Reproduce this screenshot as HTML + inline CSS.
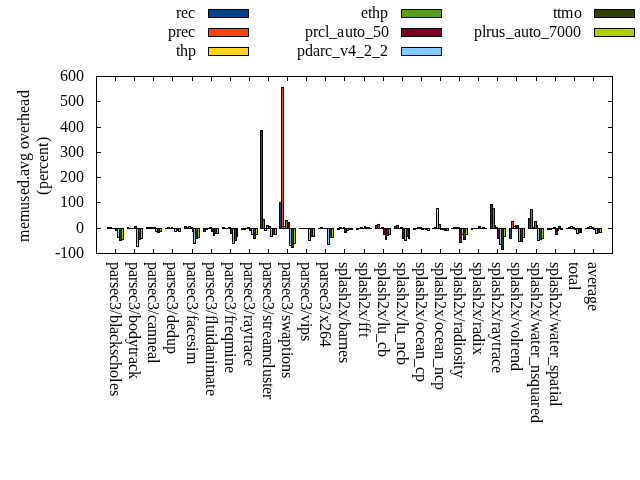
<!DOCTYPE html>
<html><head><meta charset="utf-8"><title>memused.avg overhead</title>
<style>
html,body{margin:0;padding:0;background:#fff;}
body{width:640px;height:480px;overflow:hidden;}
svg{display:block;}
text{font-family:"Liberation Serif",serif;font-size:16px;fill:#000;}
</style></head><body>
<svg width="640" height="480" viewBox="0 0 640 480">
<rect x="0" y="0" width="640" height="480" fill="#fff"/>
<g shape-rendering="crispEdges">
<rect x="107" y="227" width="3" height="2" fill="#000"/>
<rect x="127" y="227" width="2" height="2" fill="#000"/>
<rect x="146" y="227" width="3" height="2" fill="#000"/>
<rect x="165" y="228" width="3" height="1" fill="#000"/>
<rect x="184" y="226" width="3" height="3" fill="#000"/>
<rect x="185" y="227" width="1" height="1" fill="#004586"/>
<rect x="203" y="228" width="3" height="4" fill="#000"/>
<rect x="204" y="229" width="1" height="2" fill="#004586"/>
<rect x="222" y="227" width="3" height="2" fill="#000"/>
<rect x="241" y="228" width="3" height="2" fill="#000"/>
<rect x="260" y="130" width="3" height="99" fill="#000"/>
<rect x="261" y="131" width="1" height="97" fill="#004586"/>
<rect x="279" y="202" width="3" height="27" fill="#000"/>
<rect x="280" y="203" width="1" height="25" fill="#004586"/>
<rect x="299" y="228" width="2" height="1" fill="#000"/>
<rect x="318" y="228" width="3" height="1" fill="#000"/>
<rect x="337" y="228" width="3" height="2" fill="#000"/>
<rect x="356" y="228" width="3" height="2" fill="#000"/>
<rect x="375" y="225" width="3" height="4" fill="#000"/>
<rect x="376" y="226" width="1" height="2" fill="#004586"/>
<rect x="394" y="226" width="3" height="3" fill="#000"/>
<rect x="395" y="227" width="1" height="1" fill="#004586"/>
<rect x="413" y="228" width="3" height="2" fill="#000"/>
<rect x="432" y="228" width="3" height="1" fill="#000"/>
<rect x="451" y="228" width="3" height="1" fill="#000"/>
<rect x="471" y="228" width="2" height="2" fill="#000"/>
<rect x="490" y="204" width="3" height="25" fill="#000"/>
<rect x="491" y="205" width="1" height="23" fill="#004586"/>
<rect x="509" y="228" width="3" height="11" fill="#000"/>
<rect x="510" y="229" width="1" height="9" fill="#004586"/>
<rect x="528" y="218" width="3" height="11" fill="#000"/>
<rect x="529" y="219" width="1" height="9" fill="#004586"/>
<rect x="547" y="228" width="3" height="2" fill="#000"/>
<rect x="566" y="228" width="3" height="1" fill="#000"/>
<rect x="585" y="228" width="3" height="1" fill="#000"/>
<rect x="109" y="227" width="3" height="2" fill="#000"/>
<rect x="128" y="228" width="3" height="1" fill="#000"/>
<rect x="148" y="227" width="3" height="2" fill="#000"/>
<rect x="167" y="227" width="3" height="2" fill="#000"/>
<rect x="186" y="227" width="3" height="2" fill="#000"/>
<rect x="205" y="228" width="3" height="2" fill="#000"/>
<rect x="224" y="228" width="3" height="1" fill="#000"/>
<rect x="243" y="228" width="3" height="2" fill="#000"/>
<rect x="262" y="219" width="3" height="10" fill="#000"/>
<rect x="263" y="220" width="1" height="8" fill="#ff420e"/>
<rect x="281" y="87" width="3" height="142" fill="#000"/>
<rect x="282" y="88" width="1" height="140" fill="#ff420e"/>
<rect x="300" y="228" width="3" height="1" fill="#000"/>
<rect x="320" y="227" width="3" height="2" fill="#000"/>
<rect x="339" y="227" width="3" height="2" fill="#000"/>
<rect x="358" y="228" width="3" height="1" fill="#000"/>
<rect x="377" y="224" width="3" height="5" fill="#000"/>
<rect x="378" y="225" width="1" height="3" fill="#ff420e"/>
<rect x="396" y="225" width="3" height="4" fill="#000"/>
<rect x="397" y="226" width="1" height="2" fill="#ff420e"/>
<rect x="415" y="228" width="3" height="1" fill="#000"/>
<rect x="434" y="227" width="3" height="2" fill="#000"/>
<rect x="453" y="227" width="3" height="2" fill="#000"/>
<rect x="472" y="228" width="3" height="1" fill="#000"/>
<rect x="492" y="208" width="3" height="21" fill="#000"/>
<rect x="493" y="209" width="1" height="19" fill="#ff420e"/>
<rect x="511" y="221" width="3" height="8" fill="#000"/>
<rect x="512" y="222" width="1" height="6" fill="#ff420e"/>
<rect x="530" y="209" width="3" height="20" fill="#000"/>
<rect x="531" y="210" width="1" height="18" fill="#ff420e"/>
<rect x="549" y="228" width="3" height="2" fill="#000"/>
<rect x="568" y="227" width="3" height="2" fill="#000"/>
<rect x="587" y="227" width="3" height="2" fill="#000"/>
<rect x="111" y="228" width="3" height="1" fill="#000"/>
<rect x="130" y="228" width="3" height="1" fill="#000"/>
<rect x="150" y="227" width="2" height="2" fill="#000"/>
<rect x="169" y="228" width="3" height="1" fill="#000"/>
<rect x="188" y="226" width="3" height="3" fill="#000"/>
<rect x="189" y="227" width="1" height="1" fill="#ffd320"/>
<rect x="207" y="228" width="3" height="1" fill="#000"/>
<rect x="226" y="228" width="3" height="1" fill="#000"/>
<rect x="245" y="228" width="3" height="1" fill="#000"/>
<rect x="264" y="228" width="3" height="3" fill="#000"/>
<rect x="265" y="229" width="1" height="1" fill="#ffd320"/>
<rect x="283" y="226" width="3" height="3" fill="#000"/>
<rect x="284" y="227" width="1" height="1" fill="#ffd320"/>
<rect x="302" y="228" width="3" height="1" fill="#000"/>
<rect x="322" y="228" width="2" height="1" fill="#000"/>
<rect x="341" y="228" width="3" height="1" fill="#000"/>
<rect x="360" y="227" width="3" height="2" fill="#000"/>
<rect x="379" y="228" width="3" height="1" fill="#000"/>
<rect x="398" y="228" width="3" height="1" fill="#000"/>
<rect x="417" y="227" width="3" height="2" fill="#000"/>
<rect x="436" y="208" width="3" height="21" fill="#000"/>
<rect x="437" y="209" width="1" height="19" fill="#ffd320"/>
<rect x="455" y="227" width="3" height="2" fill="#000"/>
<rect x="474" y="228" width="3" height="1" fill="#000"/>
<rect x="494" y="225" width="2" height="4" fill="#000"/>
<rect x="513" y="226" width="3" height="3" fill="#000"/>
<rect x="514" y="227" width="1" height="1" fill="#ffd320"/>
<rect x="532" y="227" width="3" height="2" fill="#000"/>
<rect x="551" y="228" width="3" height="1" fill="#000"/>
<rect x="570" y="226" width="3" height="3" fill="#000"/>
<rect x="571" y="227" width="1" height="1" fill="#ffd320"/>
<rect x="589" y="226" width="3" height="3" fill="#000"/>
<rect x="590" y="227" width="1" height="1" fill="#ffd320"/>
<rect x="113" y="228" width="3" height="1" fill="#000"/>
<rect x="132" y="228" width="3" height="1" fill="#000"/>
<rect x="151" y="227" width="3" height="2" fill="#000"/>
<rect x="171" y="227" width="2" height="2" fill="#000"/>
<rect x="190" y="227" width="3" height="2" fill="#000"/>
<rect x="209" y="227" width="3" height="2" fill="#000"/>
<rect x="228" y="227" width="3" height="2" fill="#000"/>
<rect x="247" y="227" width="3" height="2" fill="#000"/>
<rect x="266" y="225" width="3" height="4" fill="#000"/>
<rect x="267" y="226" width="1" height="2" fill="#579d1c"/>
<rect x="285" y="220" width="3" height="9" fill="#000"/>
<rect x="286" y="221" width="1" height="7" fill="#579d1c"/>
<rect x="304" y="228" width="3" height="1" fill="#000"/>
<rect x="323" y="228" width="3" height="1" fill="#000"/>
<rect x="343" y="227" width="2" height="2" fill="#000"/>
<rect x="362" y="228" width="3" height="1" fill="#000"/>
<rect x="381" y="227" width="3" height="2" fill="#000"/>
<rect x="400" y="227" width="3" height="2" fill="#000"/>
<rect x="419" y="227" width="3" height="2" fill="#000"/>
<rect x="438" y="224" width="3" height="5" fill="#000"/>
<rect x="439" y="225" width="1" height="3" fill="#579d1c"/>
<rect x="457" y="227" width="3" height="2" fill="#000"/>
<rect x="476" y="228" width="3" height="1" fill="#000"/>
<rect x="495" y="227" width="3" height="2" fill="#000"/>
<rect x="515" y="225" width="2" height="4" fill="#000"/>
<rect x="534" y="221" width="3" height="8" fill="#000"/>
<rect x="535" y="222" width="1" height="6" fill="#579d1c"/>
<rect x="553" y="227" width="3" height="2" fill="#000"/>
<rect x="572" y="227" width="3" height="2" fill="#000"/>
<rect x="591" y="227" width="3" height="2" fill="#000"/>
<rect x="115" y="228" width="3" height="3" fill="#000"/>
<rect x="116" y="229" width="1" height="1" fill="#7e0021"/>
<rect x="134" y="226" width="3" height="3" fill="#000"/>
<rect x="135" y="227" width="1" height="1" fill="#7e0021"/>
<rect x="153" y="227" width="3" height="2" fill="#000"/>
<rect x="172" y="228" width="3" height="1" fill="#000"/>
<rect x="192" y="228" width="2" height="4" fill="#000"/>
<rect x="211" y="228" width="3" height="4" fill="#000"/>
<rect x="212" y="229" width="1" height="2" fill="#7e0021"/>
<rect x="230" y="228" width="3" height="6" fill="#000"/>
<rect x="231" y="229" width="1" height="4" fill="#7e0021"/>
<rect x="249" y="228" width="3" height="3" fill="#000"/>
<rect x="250" y="229" width="1" height="1" fill="#7e0021"/>
<rect x="268" y="226" width="3" height="3" fill="#000"/>
<rect x="269" y="227" width="1" height="1" fill="#7e0021"/>
<rect x="287" y="222" width="3" height="7" fill="#000"/>
<rect x="288" y="223" width="1" height="5" fill="#7e0021"/>
<rect x="306" y="228" width="3" height="1" fill="#000"/>
<rect x="325" y="228" width="3" height="1" fill="#000"/>
<rect x="344" y="228" width="3" height="5" fill="#000"/>
<rect x="345" y="229" width="1" height="3" fill="#7e0021"/>
<rect x="364" y="226" width="2" height="3" fill="#000"/>
<rect x="383" y="228" width="3" height="7" fill="#000"/>
<rect x="384" y="229" width="1" height="5" fill="#7e0021"/>
<rect x="402" y="228" width="3" height="11" fill="#000"/>
<rect x="403" y="229" width="1" height="9" fill="#7e0021"/>
<rect x="421" y="228" width="3" height="2" fill="#000"/>
<rect x="440" y="228" width="3" height="2" fill="#000"/>
<rect x="459" y="228" width="3" height="15" fill="#000"/>
<rect x="460" y="229" width="1" height="13" fill="#7e0021"/>
<rect x="478" y="226" width="3" height="3" fill="#000"/>
<rect x="479" y="227" width="1" height="1" fill="#7e0021"/>
<rect x="497" y="228" width="3" height="11" fill="#000"/>
<rect x="498" y="229" width="1" height="9" fill="#7e0021"/>
<rect x="516" y="225" width="3" height="4" fill="#000"/>
<rect x="517" y="226" width="1" height="2" fill="#7e0021"/>
<rect x="536" y="225" width="2" height="4" fill="#000"/>
<rect x="555" y="228" width="3" height="7" fill="#000"/>
<rect x="556" y="229" width="1" height="5" fill="#7e0021"/>
<rect x="574" y="228" width="3" height="2" fill="#000"/>
<rect x="593" y="228" width="3" height="2" fill="#000"/>
<rect x="117" y="228" width="3" height="10" fill="#000"/>
<rect x="118" y="229" width="1" height="8" fill="#83caff"/>
<rect x="136" y="228" width="3" height="19" fill="#000"/>
<rect x="137" y="229" width="1" height="17" fill="#83caff"/>
<rect x="155" y="228" width="3" height="4" fill="#000"/>
<rect x="156" y="229" width="1" height="2" fill="#83caff"/>
<rect x="174" y="228" width="3" height="4" fill="#000"/>
<rect x="175" y="229" width="1" height="2" fill="#83caff"/>
<rect x="193" y="228" width="3" height="16" fill="#000"/>
<rect x="194" y="229" width="1" height="14" fill="#83caff"/>
<rect x="213" y="228" width="2" height="8" fill="#000"/>
<rect x="232" y="228" width="3" height="16" fill="#000"/>
<rect x="233" y="229" width="1" height="14" fill="#83caff"/>
<rect x="251" y="228" width="3" height="7" fill="#000"/>
<rect x="252" y="229" width="1" height="5" fill="#83caff"/>
<rect x="270" y="228" width="3" height="9" fill="#000"/>
<rect x="271" y="229" width="1" height="7" fill="#83caff"/>
<rect x="289" y="228" width="3" height="18" fill="#000"/>
<rect x="290" y="229" width="1" height="16" fill="#83caff"/>
<rect x="308" y="228" width="3" height="13" fill="#000"/>
<rect x="309" y="229" width="1" height="11" fill="#83caff"/>
<rect x="327" y="228" width="3" height="17" fill="#000"/>
<rect x="328" y="229" width="1" height="15" fill="#83caff"/>
<rect x="346" y="228" width="3" height="3" fill="#000"/>
<rect x="347" y="229" width="1" height="1" fill="#83caff"/>
<rect x="365" y="227" width="3" height="2" fill="#000"/>
<rect x="385" y="228" width="2" height="12" fill="#000"/>
<rect x="404" y="228" width="3" height="13" fill="#000"/>
<rect x="405" y="229" width="1" height="11" fill="#83caff"/>
<rect x="423" y="228" width="3" height="1" fill="#000"/>
<rect x="442" y="228" width="3" height="2" fill="#000"/>
<rect x="461" y="228" width="3" height="7" fill="#000"/>
<rect x="462" y="229" width="1" height="5" fill="#83caff"/>
<rect x="480" y="228" width="3" height="1" fill="#000"/>
<rect x="499" y="228" width="3" height="17" fill="#000"/>
<rect x="500" y="229" width="1" height="15" fill="#83caff"/>
<rect x="518" y="228" width="3" height="14" fill="#000"/>
<rect x="519" y="229" width="1" height="12" fill="#83caff"/>
<rect x="537" y="228" width="3" height="13" fill="#000"/>
<rect x="538" y="229" width="1" height="11" fill="#83caff"/>
<rect x="557" y="228" width="2" height="3" fill="#000"/>
<rect x="576" y="228" width="3" height="6" fill="#000"/>
<rect x="577" y="229" width="1" height="4" fill="#83caff"/>
<rect x="595" y="228" width="3" height="6" fill="#000"/>
<rect x="596" y="229" width="1" height="4" fill="#83caff"/>
<rect x="119" y="228" width="3" height="13" fill="#000"/>
<rect x="120" y="229" width="1" height="11" fill="#314004"/>
<rect x="138" y="228" width="3" height="12" fill="#000"/>
<rect x="139" y="229" width="1" height="10" fill="#314004"/>
<rect x="157" y="228" width="3" height="5" fill="#000"/>
<rect x="158" y="229" width="1" height="3" fill="#314004"/>
<rect x="176" y="228" width="3" height="3" fill="#000"/>
<rect x="177" y="229" width="1" height="1" fill="#314004"/>
<rect x="195" y="228" width="3" height="11" fill="#000"/>
<rect x="196" y="229" width="1" height="9" fill="#314004"/>
<rect x="214" y="228" width="3" height="6" fill="#000"/>
<rect x="215" y="229" width="1" height="4" fill="#314004"/>
<rect x="234" y="228" width="3" height="13" fill="#000"/>
<rect x="235" y="229" width="1" height="11" fill="#314004"/>
<rect x="253" y="228" width="3" height="11" fill="#000"/>
<rect x="254" y="229" width="1" height="9" fill="#314004"/>
<rect x="272" y="228" width="3" height="7" fill="#000"/>
<rect x="273" y="229" width="1" height="5" fill="#314004"/>
<rect x="291" y="228" width="3" height="20" fill="#000"/>
<rect x="292" y="229" width="1" height="18" fill="#314004"/>
<rect x="310" y="228" width="3" height="9" fill="#000"/>
<rect x="311" y="229" width="1" height="7" fill="#314004"/>
<rect x="329" y="228" width="3" height="10" fill="#000"/>
<rect x="330" y="229" width="1" height="8" fill="#314004"/>
<rect x="348" y="228" width="3" height="2" fill="#000"/>
<rect x="367" y="227" width="3" height="2" fill="#000"/>
<rect x="386" y="228" width="3" height="8" fill="#000"/>
<rect x="387" y="229" width="1" height="6" fill="#314004"/>
<rect x="406" y="228" width="3" height="9" fill="#000"/>
<rect x="407" y="229" width="1" height="7" fill="#314004"/>
<rect x="425" y="228" width="3" height="2" fill="#000"/>
<rect x="444" y="228" width="3" height="3" fill="#000"/>
<rect x="445" y="229" width="1" height="1" fill="#314004"/>
<rect x="463" y="228" width="3" height="12" fill="#000"/>
<rect x="464" y="229" width="1" height="10" fill="#314004"/>
<rect x="482" y="227" width="3" height="2" fill="#000"/>
<rect x="501" y="228" width="3" height="22" fill="#000"/>
<rect x="502" y="229" width="1" height="20" fill="#314004"/>
<rect x="520" y="228" width="3" height="14" fill="#000"/>
<rect x="521" y="229" width="1" height="12" fill="#314004"/>
<rect x="539" y="228" width="3" height="12" fill="#000"/>
<rect x="540" y="229" width="1" height="10" fill="#314004"/>
<rect x="558" y="226" width="3" height="3" fill="#000"/>
<rect x="559" y="227" width="1" height="1" fill="#314004"/>
<rect x="578" y="228" width="3" height="5" fill="#000"/>
<rect x="579" y="229" width="1" height="3" fill="#314004"/>
<rect x="597" y="228" width="3" height="5" fill="#000"/>
<rect x="598" y="229" width="1" height="3" fill="#314004"/>
<rect x="121" y="228" width="3" height="12" fill="#000"/>
<rect x="122" y="229" width="1" height="10" fill="#aecf00"/>
<rect x="140" y="228" width="3" height="11" fill="#000"/>
<rect x="141" y="229" width="1" height="9" fill="#aecf00"/>
<rect x="159" y="228" width="3" height="4" fill="#000"/>
<rect x="160" y="229" width="1" height="2" fill="#aecf00"/>
<rect x="178" y="228" width="3" height="4" fill="#000"/>
<rect x="179" y="229" width="1" height="2" fill="#aecf00"/>
<rect x="197" y="228" width="3" height="10" fill="#000"/>
<rect x="198" y="229" width="1" height="8" fill="#aecf00"/>
<rect x="216" y="228" width="3" height="6" fill="#000"/>
<rect x="217" y="229" width="1" height="4" fill="#aecf00"/>
<rect x="236" y="228" width="2" height="9" fill="#000"/>
<rect x="255" y="228" width="3" height="7" fill="#000"/>
<rect x="256" y="229" width="1" height="5" fill="#aecf00"/>
<rect x="274" y="228" width="3" height="7" fill="#000"/>
<rect x="275" y="229" width="1" height="5" fill="#aecf00"/>
<rect x="293" y="228" width="3" height="16" fill="#000"/>
<rect x="294" y="229" width="1" height="14" fill="#aecf00"/>
<rect x="312" y="228" width="3" height="9" fill="#000"/>
<rect x="313" y="229" width="1" height="7" fill="#aecf00"/>
<rect x="331" y="228" width="3" height="10" fill="#000"/>
<rect x="332" y="229" width="1" height="8" fill="#aecf00"/>
<rect x="350" y="228" width="3" height="2" fill="#000"/>
<rect x="369" y="228" width="3" height="1" fill="#000"/>
<rect x="388" y="228" width="3" height="7" fill="#000"/>
<rect x="389" y="229" width="1" height="5" fill="#aecf00"/>
<rect x="408" y="228" width="2" height="11" fill="#000"/>
<rect x="427" y="228" width="3" height="3" fill="#000"/>
<rect x="428" y="229" width="1" height="1" fill="#aecf00"/>
<rect x="446" y="228" width="3" height="3" fill="#000"/>
<rect x="447" y="229" width="1" height="1" fill="#aecf00"/>
<rect x="465" y="228" width="3" height="7" fill="#000"/>
<rect x="466" y="229" width="1" height="5" fill="#aecf00"/>
<rect x="484" y="228" width="3" height="1" fill="#000"/>
<rect x="503" y="228" width="3" height="9" fill="#000"/>
<rect x="504" y="229" width="1" height="7" fill="#aecf00"/>
<rect x="522" y="228" width="3" height="10" fill="#000"/>
<rect x="523" y="229" width="1" height="8" fill="#aecf00"/>
<rect x="541" y="228" width="3" height="11" fill="#000"/>
<rect x="542" y="229" width="1" height="9" fill="#aecf00"/>
<rect x="560" y="228" width="3" height="2" fill="#000"/>
<rect x="580" y="228" width="2" height="5" fill="#000"/>
<rect x="599" y="228" width="3" height="5" fill="#000"/>
<rect x="600" y="229" width="1" height="3" fill="#aecf00"/>
<rect x="96" y="76" width="517" height="1" fill="#000"/>
<rect x="96" y="253" width="517" height="1" fill="#000"/>
<rect x="96" y="76" width="1" height="178" fill="#000"/>
<rect x="612" y="76" width="1" height="178" fill="#000"/>
<rect x="115" y="249" width="1" height="5" fill="#000"/>
<rect x="115" y="76" width="1" height="5" fill="#000"/>
<rect x="134" y="249" width="1" height="5" fill="#000"/>
<rect x="134" y="76" width="1" height="5" fill="#000"/>
<rect x="153" y="249" width="1" height="5" fill="#000"/>
<rect x="153" y="76" width="1" height="5" fill="#000"/>
<rect x="172" y="249" width="1" height="5" fill="#000"/>
<rect x="172" y="76" width="1" height="5" fill="#000"/>
<rect x="192" y="249" width="1" height="5" fill="#000"/>
<rect x="192" y="76" width="1" height="5" fill="#000"/>
<rect x="211" y="249" width="1" height="5" fill="#000"/>
<rect x="211" y="76" width="1" height="5" fill="#000"/>
<rect x="230" y="249" width="1" height="5" fill="#000"/>
<rect x="230" y="76" width="1" height="5" fill="#000"/>
<rect x="249" y="249" width="1" height="5" fill="#000"/>
<rect x="249" y="76" width="1" height="5" fill="#000"/>
<rect x="268" y="249" width="1" height="5" fill="#000"/>
<rect x="268" y="76" width="1" height="5" fill="#000"/>
<rect x="287" y="249" width="1" height="5" fill="#000"/>
<rect x="287" y="76" width="1" height="5" fill="#000"/>
<rect x="306" y="249" width="1" height="5" fill="#000"/>
<rect x="306" y="76" width="1" height="5" fill="#000"/>
<rect x="325" y="249" width="1" height="5" fill="#000"/>
<rect x="325" y="76" width="1" height="5" fill="#000"/>
<rect x="344" y="249" width="1" height="5" fill="#000"/>
<rect x="344" y="76" width="1" height="5" fill="#000"/>
<rect x="364" y="249" width="1" height="5" fill="#000"/>
<rect x="364" y="76" width="1" height="5" fill="#000"/>
<rect x="383" y="249" width="1" height="5" fill="#000"/>
<rect x="383" y="76" width="1" height="5" fill="#000"/>
<rect x="402" y="249" width="1" height="5" fill="#000"/>
<rect x="402" y="76" width="1" height="5" fill="#000"/>
<rect x="421" y="249" width="1" height="5" fill="#000"/>
<rect x="421" y="76" width="1" height="5" fill="#000"/>
<rect x="440" y="249" width="1" height="5" fill="#000"/>
<rect x="440" y="76" width="1" height="5" fill="#000"/>
<rect x="459" y="249" width="1" height="5" fill="#000"/>
<rect x="459" y="76" width="1" height="5" fill="#000"/>
<rect x="478" y="249" width="1" height="5" fill="#000"/>
<rect x="478" y="76" width="1" height="5" fill="#000"/>
<rect x="497" y="249" width="1" height="5" fill="#000"/>
<rect x="497" y="76" width="1" height="5" fill="#000"/>
<rect x="516" y="249" width="1" height="5" fill="#000"/>
<rect x="516" y="76" width="1" height="5" fill="#000"/>
<rect x="536" y="249" width="1" height="5" fill="#000"/>
<rect x="536" y="76" width="1" height="5" fill="#000"/>
<rect x="555" y="249" width="1" height="5" fill="#000"/>
<rect x="555" y="76" width="1" height="5" fill="#000"/>
<rect x="574" y="249" width="1" height="5" fill="#000"/>
<rect x="574" y="76" width="1" height="5" fill="#000"/>
<rect x="593" y="249" width="1" height="5" fill="#000"/>
<rect x="593" y="76" width="1" height="5" fill="#000"/>
<rect x="96" y="253" width="5" height="1" fill="#000"/>
<rect x="608" y="253" width="5" height="1" fill="#000"/>
<rect x="96" y="228" width="5" height="1" fill="#000"/>
<rect x="608" y="228" width="5" height="1" fill="#000"/>
<rect x="96" y="202" width="5" height="1" fill="#000"/>
<rect x="608" y="202" width="5" height="1" fill="#000"/>
<rect x="96" y="177" width="5" height="1" fill="#000"/>
<rect x="608" y="177" width="5" height="1" fill="#000"/>
<rect x="96" y="152" width="5" height="1" fill="#000"/>
<rect x="608" y="152" width="5" height="1" fill="#000"/>
<rect x="96" y="127" width="5" height="1" fill="#000"/>
<rect x="608" y="127" width="5" height="1" fill="#000"/>
<rect x="96" y="101" width="5" height="1" fill="#000"/>
<rect x="608" y="101" width="5" height="1" fill="#000"/>
<rect x="96" y="76" width="5" height="1" fill="#000"/>
<rect x="608" y="76" width="5" height="1" fill="#000"/>
<rect x="208" y="9" width="41" height="9" fill="#000"/>
<rect x="209" y="10" width="39" height="7" fill="#004586"/>
<rect x="208" y="28" width="41" height="9" fill="#000"/>
<rect x="209" y="29" width="39" height="7" fill="#ff420e"/>
<rect x="208" y="47" width="41" height="9" fill="#000"/>
<rect x="209" y="48" width="39" height="7" fill="#ffd320"/>
<rect x="401" y="9" width="41" height="9" fill="#000"/>
<rect x="402" y="10" width="39" height="7" fill="#579d1c"/>
<rect x="401" y="28" width="41" height="9" fill="#000"/>
<rect x="402" y="29" width="39" height="7" fill="#7e0021"/>
<rect x="401" y="47" width="41" height="9" fill="#000"/>
<rect x="402" y="48" width="39" height="7" fill="#83caff"/>
<rect x="594" y="9" width="41" height="9" fill="#000"/>
<rect x="595" y="10" width="39" height="7" fill="#314004"/>
<rect x="594" y="28" width="41" height="9" fill="#000"/>
<rect x="595" y="29" width="39" height="7" fill="#aecf00"/>
</g>
<g style="opacity:0.999">
<text x="176 181 188" y="18">rec</text>
<text x="168 176 181 188" y="37">prec</text>
<text x="176 180 188" y="56">thp</text>
<text x="361 368 372 380" y="18">ethp</text>
<text x="305 313 318 325 329 337 345 353 357 365 373 381" y="37">prcl_auto_50</text>
<text x="297 305 313 320 325 332 340 348 356 364 372 380" y="56">pdarc_v4_2_2</text>
<text x="553 557 561 574" y="18">ttmo</text>
<text x="474 482 486 491 499 506 514 521 529 533 541 549 557 565 573" y="37">plrus_auto_7000</text>
<text x="55 60 68 76" y="258">-100</text>
<text x="76" y="233">0</text>
<text x="60 68 76" y="207">100</text>
<text x="60 68 76" y="182">200</text>
<text x="60 68 76" y="157">300</text>
<text x="60 68 76" y="132">400</text>
<text x="60 68 76" y="106">500</text>
<text x="60 68 76" y="81">600</text>
<text class="r" transform="translate(110,262) rotate(90)" x="0 8 15 20 26 33 40 48 53 61 65 72 79 87 93 100 108 116 121 128" y="0">parsec3/blackscholes</text>
<text class="r" transform="translate(129,262) rotate(90)" x="0 8 15 20 26 33 40 48 53 61 69 77 85 89 95 102 109" y="0">parsec3/bodytrack</text>
<text class="r" transform="translate(148,262) rotate(90)" x="0 8 15 20 26 33 40 48 53 60 67 75 83 90 97" y="0">parsec3/canneal</text>
<text class="r" transform="translate(167,262) rotate(90)" x="0 8 15 20 26 33 40 48 53 61 68 76 84" y="0">parsec3/dedup</text>
<text class="r" transform="translate(187,262) rotate(90)" x="0 8 15 20 26 33 40 48 53 58 65 72 79 85 90" y="0">parsec3/facesim</text>
<text class="r" transform="translate(206,262) rotate(90)" x="0 8 15 20 26 33 40 48 53 58 63 71 75 83 90 98 103 115 122 127" y="0">parsec3/fluidanimate</text>
<text class="r" transform="translate(225,262) rotate(90)" x="0 8 15 20 26 33 40 48 53 58 64 71 79 91 96 104" y="0">parsec3/freqmine</text>
<text class="r" transform="translate(244,262) rotate(90)" x="0 8 15 20 26 33 40 48 53 58 65 73 78 83 90 97" y="0">parsec3/raytrace</text>
<text class="r" transform="translate(263,262) rotate(90)" x="0 8 15 20 26 33 40 48 53 59 63 69 76 83 95 102 107 115 121 125 132" y="0">parsec3/streamcluster</text>
<text class="r" transform="translate(282,262) rotate(90)" x="0 8 15 20 26 33 40 48 53 59 70 77 85 90 94 102 110" y="0">parsec3/swaptions</text>
<text class="r" transform="translate(301,262) rotate(90)" x="0 8 15 20 26 33 40 48 53 61 65 73" y="0">parsec3/vips</text>
<text class="r" transform="translate(320,262) rotate(90)" x="0 8 15 20 26 33 40 48 53 61 69 77" y="0">parsec3/x264</text>
<text class="r" transform="translate(339,262) rotate(90)" x="0 6 14 18 25 31 39 47 55 60 68 75 80 88 95" y="0">splash2x/barnes</text>
<text class="r" transform="translate(359,262) rotate(90)" x="0 6 14 18 25 31 39 47 55 60 65 71" y="0">splash2x/fft</text>
<text class="r" transform="translate(378,262) rotate(90)" x="0 6 14 18 25 31 39 47 55 60 64 72 80 87" y="0">splash2x/lu_cb</text>
<text class="r" transform="translate(397,262) rotate(90)" x="0 6 14 18 25 31 39 47 55 60 64 72 80 88 95" y="0">splash2x/lu_ncb</text>
<text class="r" transform="translate(416,262) rotate(90)" x="0 6 14 18 25 31 39 47 55 60 68 75 82 89 97 105 112" y="0">splash2x/ocean_cp</text>
<text class="r" transform="translate(435,262) rotate(90)" x="0 6 14 18 25 31 39 47 55 60 68 75 82 89 97 105 113 120" y="0">splash2x/ocean_ncp</text>
<text class="r" transform="translate(454,262) rotate(90)" x="0 6 14 18 25 31 39 47 55 60 65 72 80 85 93 99 103 108" y="0">splash2x/radiosity</text>
<text class="r" transform="translate(473,262) rotate(90)" x="0 6 14 18 25 31 39 47 55 60 65 72 80 85" y="0">splash2x/radix</text>
<text class="r" transform="translate(492,262) rotate(90)" x="0 6 14 18 25 31 39 47 55 60 65 72 80 85 90 97 104" y="0">splash2x/raytrace</text>
<text class="r" transform="translate(511,262) rotate(90)" x="0 6 14 18 25 31 39 47 55 60 68 76 80 86 93 101" y="0">splash2x/volrend</text>
<text class="r" transform="translate(531,262) rotate(90)" x="0 6 14 18 25 31 39 47 55 60 71 78 83 90 95 103 111 117 125 133 140 146 153" y="0">splash2x/water_nsquared</text>
<text class="r" transform="translate(550,262) rotate(90)" x="0 6 14 18 25 31 39 47 55 60 71 78 83 90 95 103 109 117 124 129 133 140" y="0">splash2x/water_spatial</text>
<text class="r" transform="translate(569,262) rotate(90)" x="0 4 12 16 24" y="0">total</text>
<text class="r" transform="translate(588,262) rotate(90)" x="0 7 15 22 27 34 42" y="0">average</text>
<text class="r" transform="translate(29,242) rotate(-90)" x="0 13 20 32 40 47 54 62 66 73 81 89 93 101 109 116 121 129 136 144" y="0">memused.avg overhead</text>
<text class="r" transform="translate(48,195) rotate(-90)" x="0 6 14 21 26 33 40 48 53" y="0">(percent)</text>
</g>
</svg>
</body></html>
